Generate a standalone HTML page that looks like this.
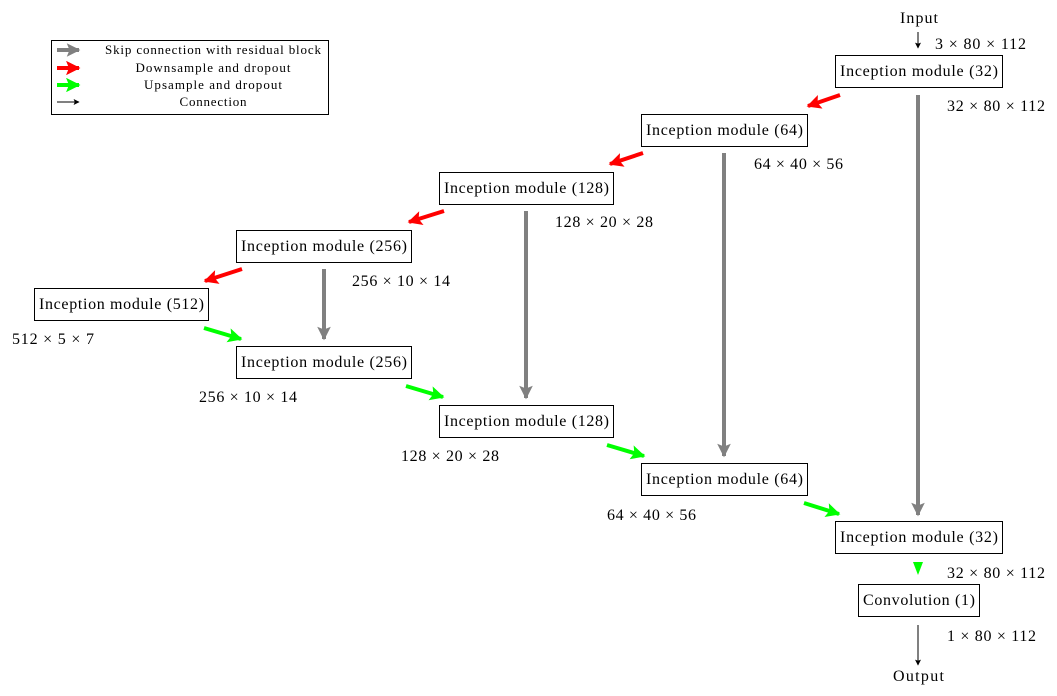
<!DOCTYPE html>
<html><head><meta charset="utf-8"><style>
html,body{margin:0;padding:0;background:#fff;}
svg{display:block;font-family:"Liberation Serif",serif;}
</style></head><body>
<svg width="1057" height="696" viewBox="0 0 1057 696" xmlns="http://www.w3.org/2000/svg">
<defs>
<marker id="ar" viewBox="0 0 10 10" refX="9" refY="5" markerWidth="4.2" markerHeight="3.6" orient="auto"><path d="M0,0 L10,5 L0,10 L2,5 Z" fill="#f00"/></marker>
<marker id="ag" viewBox="0 0 10 10" refX="9" refY="5" markerWidth="4.2" markerHeight="3.6" orient="auto"><path d="M0,0 L10,5 L0,10 L2,5 Z" fill="#0f0"/></marker>
<marker id="agr" viewBox="0 0 10 10" refX="9" refY="5" markerWidth="4" markerHeight="3.4" orient="auto"><path d="M0,0 L10,5 L0,10 L2,5 Z" fill="#808080"/></marker>
<marker id="ab" viewBox="0 0 10 10" refX="9" refY="5" markerWidth="7" markerHeight="6" orient="auto"><path d="M0,0 L10,5 L0,10 L2,5 Z" fill="#000"/></marker>
</defs>
<!-- legend -->
<rect x="51.5" y="40.5" width="277" height="74" fill="none" stroke="#000" stroke-width="1"/>
<line x1="57" y1="50" x2="79" y2="50" stroke="#808080" stroke-width="4" marker-end="url(#agr)"/>
<line x1="57" y1="68" x2="79" y2="68" stroke="#f00" stroke-width="4" marker-end="url(#ar)"/>
<line x1="57" y1="85" x2="79" y2="85" stroke="#0f0" stroke-width="4" marker-end="url(#ag)"/>
<line x1="57" y1="102" x2="79" y2="102" stroke="#000" stroke-width="1" marker-end="url(#ab)"/>
<g font-size="13" text-anchor="middle" lengthAdjust="spacing">
<text x="213" y="54" textLength="216">Skip connection with residual block</text>
<text x="213" y="72" textLength="155">Downsample and dropout</text>
<text x="213" y="89" textLength="138">Upsample and dropout</text>
<text x="213" y="106" textLength="67">Connection</text>
</g>
<!-- boxes -->
<g fill="none" stroke="#000" stroke-width="1">
<rect x="835.5" y="55.5" width="167" height="32"/>
<rect x="641.5" y="114.5" width="166" height="32"/>
<rect x="439.5" y="172.5" width="174" height="32"/>
<rect x="236.5" y="230.5" width="175" height="32"/>
<rect x="34.5" y="288.5" width="174" height="32"/>
<rect x="236.5" y="346.5" width="175" height="32"/>
<rect x="439.5" y="405.5" width="174" height="32"/>
<rect x="641.5" y="463.5" width="166" height="32"/>
<rect x="835.5" y="521.5" width="167" height="32"/>
<rect x="858.5" y="584.5" width="121" height="32"/>
</g>
<g font-size="16" lengthAdjust="spacing">
<text x="840" y="76" textLength="158">Inception module (32)</text>
<text x="646" y="135" textLength="157">Inception module (64)</text>
<text x="444" y="193" textLength="165">Inception module (128)</text>
<text x="241" y="251" textLength="166">Inception module (256)</text>
<text x="39" y="309" textLength="165">Inception module (512)</text>
<text x="241" y="367" textLength="166">Inception module (256)</text>
<text x="444" y="426" textLength="165">Inception module (128)</text>
<text x="646" y="484" textLength="157">Inception module (64)</text>
<text x="840" y="542" textLength="158">Inception module (32)</text>
<text x="863" y="605" textLength="112">Convolution (1)</text>
<text x="900" y="23" textLength="38">Input</text>
<text x="893" y="681" textLength="51">Output</text>
</g>
<g font-size="16" lengthAdjust="spacing">
<text x="935" y="49" textLength="91">3 × 80 × 112</text>
<text x="947" y="111" textLength="98">32 × 80 × 112</text>
<text x="754" y="169" textLength="89">64 × 40 × 56</text>
<text x="555" y="227" textLength="98">128 × 20 × 28</text>
<text x="352" y="286" textLength="98">256 × 10 × 14</text>
<text x="12" y="344" textLength="82">512 × 5 × 7</text>
<text x="199" y="402" textLength="98">256 × 10 × 14</text>
<text x="401" y="461" textLength="98">128 × 20 × 28</text>
<text x="607" y="520" textLength="89">64 × 40 × 56</text>
<text x="947" y="578" textLength="98">32 × 80 × 112</text>
<text x="947" y="641" textLength="89">1 × 80 × 112</text>
</g>
<!-- arrows -->
<g stroke-width="4">
<line x1="840" y1="95" x2="808" y2="106" stroke="#f00" marker-end="url(#ar)"/>
<line x1="643" y1="153" x2="610" y2="164" stroke="#f00" marker-end="url(#ar)"/>
<line x1="444" y1="211" x2="409" y2="222" stroke="#f00" marker-end="url(#ar)"/>
<line x1="242" y1="269" x2="205" y2="281" stroke="#f00" marker-end="url(#ar)"/>
<line x1="204" y1="328" x2="241" y2="339" stroke="#0f0" marker-end="url(#ag)"/>
<line x1="406" y1="386" x2="443" y2="397" stroke="#0f0" marker-end="url(#ag)"/>
<line x1="607" y1="445" x2="644" y2="456" stroke="#0f0" marker-end="url(#ag)"/>
<line x1="804" y1="503" x2="839" y2="514" stroke="#0f0" marker-end="url(#ag)"/>
<line x1="918" y1="95" x2="918" y2="515" stroke="#808080" marker-end="url(#agr)"/>
<line x1="724" y1="153" x2="724" y2="456" stroke="#808080" marker-end="url(#agr)"/>
<line x1="526" y1="211" x2="526" y2="398" stroke="#808080" marker-end="url(#agr)"/>
<line x1="324" y1="269" x2="324" y2="339" stroke="#808080" marker-end="url(#agr)"/>
</g>
<path d="M913,562 L923,562 L918,575 Z" fill="#0f0"/>
<line x1="918" y1="32" x2="918" y2="48" stroke="#000" stroke-width="1" marker-end="url(#ab)"/>
<line x1="918" y1="625" x2="918" y2="665" stroke="#000" stroke-width="1" marker-end="url(#ab)"/>
</svg>
</body></html>
